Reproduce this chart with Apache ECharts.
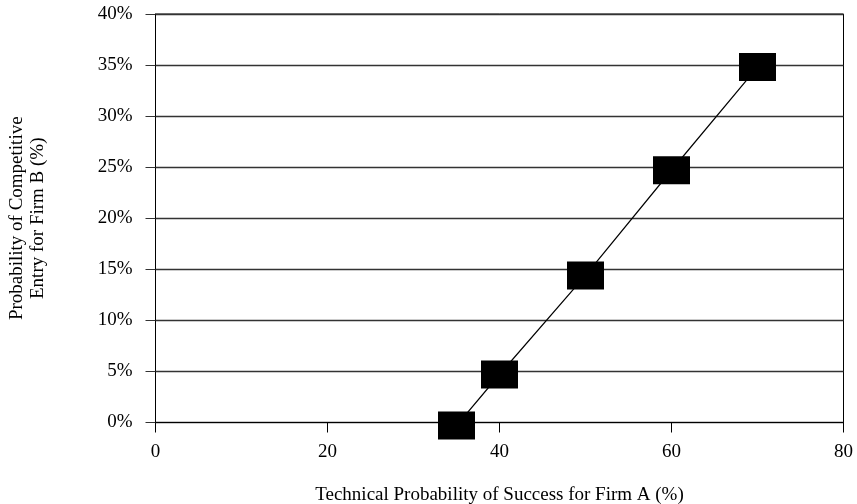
<!DOCTYPE html>
<html><head><meta charset="utf-8">
<script src="https://cdn.jsdelivr.net/npm/echarts@6/dist/echarts.min.js"></script>
<style>html,body{margin:0;padding:0;background:#fff}#c{width:857px;height:504px}</style>
</head><body><div id="c"></div>
<script>
const xValues = [35, 40, 50, 60, 70];
const yValues = [-0.3, 4.7, 14.4, 24.7, 34.8];
const xTicks = [0, 20, 40, 60, 80];
const yTicks = [0, 5, 10, 15, 20, 25, 30, 35, 40];
const xTitle = 'Technical Probability of Success for Firm A (%)';
const yTitle = 'Probability of Competitive\nEntry for Firm B (%)';

const font = 'Liberation Serif';
const chart = echarts.init(document.getElementById('c'), null, {renderer: 'canvas'});
chart.setOption({
  animation: false,
  backgroundColor: '#fff',
  grid: {left: 155.5, right: 13.5, top: 14, bottom: 81.5, show: true, borderColor: '#000', borderWidth: 1, backgroundColor: 'transparent', containLabel: false, outerBoundsMode: 'none'},
  xAxis: {
    type: 'value', min: xTicks[0], max: xTicks[xTicks.length - 1], interval: 20,
    name: xTitle, nameLocation: 'middle', nameGap: 63,
    nameTextStyle: {fontFamily: font, fontSize: 19, color: '#000'},
    axisLine: {show: true, lineStyle: {color: '#000', width: 1}},
    axisTick: {show: true, inside: false, length: 10, lineStyle: {color: '#000'}},
    axisLabel: {fontFamily: font, fontSize: 19, color: '#000', margin: 20},
    splitLine: {show: false}
  },
  yAxis: {
    type: 'value', min: yTicks[0], max: yTicks[yTicks.length - 1], interval: 5,
    name: yTitle, nameLocation: 'middle', nameGap: 107, nameRotate: 90,
    nameTextStyle: {fontFamily: font, fontSize: 19, color: '#000', lineHeight: 21, align: 'center'},
    axisLine: {show: true, lineStyle: {color: '#000', width: 1}},
    axisTick: {show: true, inside: false, length: 10, lineStyle: {color: '#333'}},
    axisLabel: {fontFamily: font, fontSize: 19, color: '#000', margin: 23, formatter: v => v + '%'},
    splitLine: {show: true, lineStyle: {color: '#333', width: 1.3}}
  },
  series: [{
    type: 'line',
    data: xValues.map((x, i) => [x, yValues[i]]),
    clip: false,
    symbol: 'rect', symbolSize: [37, 28],
    itemStyle: {color: '#000'},
    lineStyle: {color: '#000', width: 1.2},
    z: 5
  }]
});
</script></body></html>
